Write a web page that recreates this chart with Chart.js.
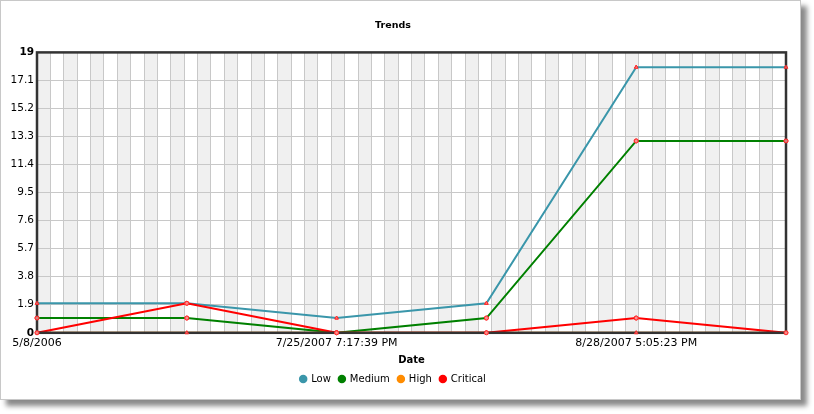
<!DOCTYPE html>
<html>
<head>
<meta charset="utf-8">
<title>Trends</title>
<script src="https://cdn.jsdelivr.net/npm/chart.js@4.4.0/dist/chart.umd.min.js"></script>
<style>
  html, body { margin: 0; padding: 0; background: #fff; }
  #panel {
    position: absolute; left: 0; top: 0;
    width: 799px; height: 398px;
    border: 1px solid #c8c8c8; background: #fff;
    box-shadow: 6px 6px 5px #8a8a8a;
  }
  #wrap { position: absolute; left: 0; top: 0; width: 801px; height: 400px; }
</style>
</head>
<body>
<div id="panel"></div>
<div id="wrap"><canvas id="trends"></canvas></div>
<script>
// ===== TRENDS CHART =====

// only three of the six dates are labelled on the axis
const dates = ['5/8/2006', '', '7/25/2007 7:17:39 PM', '', '8/28/2007 5:05:23 PM', ''];

const lowValues      = [2, 2, 1, 2, 18, 18];
const mediumValues   = [1, 1, 0, 1, 13, 13];
const highValues     = [0, 0, 0, 0, 0, 0];
const criticalValues = [0, 2, 0, 0, 1, 0];

const seriesNames  = ['Low', 'Medium', 'High', 'Critical'];
const seriesColors = ['#3a96aa', '#008000', '#ff8c00', '#ff0000'];
const seriesMarks  = ['triangle', 'circle', 'triangle', 'circle'];

const yTicks = [0, 1.9, 3.8, 5.7, 7.6, 9.5, 11.4, 13.3, 15.2, 17.1, 19];
const stripeCount = 56;

Chart.defaults.font.family = "'DejaVu Sans', Verdana, sans-serif";
Chart.defaults.font.size = 10;
Chart.defaults.color = '#000';

const gridColor = '#c8c8c8';
const frameColor = '#333333';

// alternating grey columns behind the grid
const stripes = {
  id: 'stripes',
  beforeDraw(chart) {
    const { ctx, chartArea } = chart;
    const xg = chart.scales.xg;
    ctx.save();
    ctx.fillStyle = '#f0f0f0';
    for (let i = 0; i < stripeCount; i += 2) {
      const x0 = xg.getPixelForValue(i);
      const x1 = xg.getPixelForValue(i + 1);
      ctx.fillRect(x0, chartArea.top, x1 - x0, chartArea.bottom - chartArea.top);
    }
    ctx.restore();
  }
};

// dark frame over the lines, markers drawn again on top of it
const frame = {
  id: 'frame',
  afterDatasetsDraw(chart) {
    const { ctx, chartArea } = chart;
    ctx.save();
    ctx.strokeStyle = frameColor;
    ctx.lineWidth = 2.5;
    ctx.strokeRect(chartArea.left, chartArea.top,
      chartArea.right - chartArea.left, chartArea.bottom - chartArea.top);
    ctx.restore();
    const metas = chart.getSortedVisibleDatasetMetas();
    for (let i = metas.length - 1; i >= 0; i--) {
      metas[i].data.forEach(p => p.draw(ctx, chartArea));
    }
  }
};

function series(i, data) {
  return {
    label: seriesNames[i],
    data,
    borderColor: seriesColors[i],
    backgroundColor: seriesColors[i],
    borderWidth: 2,
    tension: 0,
    fill: false,
    pointStyle: seriesMarks[i],
    pointRadius: 2,
    pointBorderWidth: 1,
    pointBorderColor: '#ff2a2a',
    pointBackgroundColor: 'rgba(255,150,150,0.8)',
    order: 4 - i
  };
}

new Chart(document.getElementById('trends'), {
  type: 'line',
  data: {
    labels: dates,
    datasets: [
      series(0, lowValues),
      series(1, mediumValues),
      series(2, highValues),
      series(3, criticalValues)
    ]
  },
  options: {
    responsive: true,
    maintainAspectRatio: false,
    animation: false,
    layout: { padding: { left: 0, right: 15, top: 0, bottom: 6 } },
    plugins: {
      title: {
        display: true,
        text: 'Trends',
        font: { size: 9.5, weight: 'bold' },
        padding: { top: 20, bottom: 21 }
      },
      legend: {
        position: 'bottom',
        labels: {
          usePointStyle: true,
          boxWidth: 6, boxHeight: 6,
          padding: 8,
          font: { size: 10 },
          generateLabels: chart => chart.data.datasets.map((ds, i) => ({
            text: ds.label,
            fillStyle: seriesColors[i],
            strokeStyle: seriesColors[i],
            lineWidth: 0,
            pointStyle: 'circle',
            hidden: !chart.isDatasetVisible(i),
            datasetIndex: i
          }))
        }
      },
      tooltip: { enabled: false }
    },
    scales: {
      x: {
        type: 'category',
        offset: false,
        grid: { display: false, drawTicks: false },
        border: { display: false },
        ticks: { autoSkip: false, maxRotation: 0, padding: 3.5, font: { size: 11 } },
        title: {
          display: true, text: 'Date',
          font: { size: 10, weight: 'bold' },
          padding: { top: 1, bottom: 0 }
        }
      },
      xg: {
        type: 'linear',
        position: 'top',
        min: 0, max: stripeCount,
        ticks: { display: false, stepSize: 1 },
        grid: { color: gridColor, lineWidth: 1, drawTicks: false },
        border: { display: false },
        afterFit: s => { s.height = 0; }
      },
      y: {
        min: 0, max: 19,
        afterBuildTicks: s => { s.ticks = yTicks.map(v => ({ value: v })); },
        afterFit: s => { s.width = 37; },
        grid: { color: gridColor, lineWidth: 1, drawTicks: false },
        border: { display: false },
        ticks: {
          padding: 3,
          callback: v => String(v),
          font: c => ({
            size: 10.5,
            weight: (c.tick && (c.tick.value === 0 || c.tick.value === 19)) ? 'bold' : 'normal'
          })
        }
      }
    }
  },
  plugins: [stripes, frame]
});
</script>
</body>
</html>
